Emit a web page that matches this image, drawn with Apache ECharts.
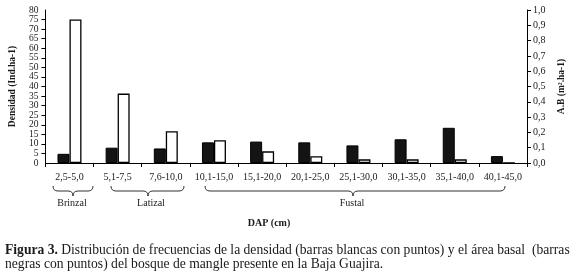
<!DOCTYPE html>
<html>
<head>
<meta charset="utf-8">
<script src="https://cdn.jsdelivr.net/npm/echarts@6/dist/echarts.min.js"></script>
<style>
html,body{margin:0;padding:0;background:#fff;}
#c{width:579px;height:275px;}
</style>
</head>
<body>
<div id="c"></div>
<script>
var categories = ['2,5-5,0','5,1-7,5','7,6-10,0','10,1-15,0','15,1-20,0','20,1-25,0','25,1-30,0','30,1-35,0','35,1-40,0','40,1-45,0'];
var areaBasal = [0.06, 0.10, 0.095, 0.135, 0.14, 0.135, 0.115, 0.155, 0.23, 0.045];
var densidad = [75, 36.3, 16.6, 11.9, 6.1, 3.5, 1.9, 1.9, 1.9, 0];
var leftTicks = {min: 0, max: 80, interval: 5};
var rightTicks = {min: 0, max: 1, interval: 0.1};

var serif = '"Liberation Serif", "DejaVu Serif", serif';
var txt = '#1a1a1a';

function brace(x1, x2, xm) {
  var y0 = 186, y1 = 191, y2 = 196, r = 5;
  var st = {fill: null, stroke: '#333', lineWidth: 1};
  return [
    {type: 'bezierCurve', shape: {x1: x1, y1: y0, cpx1: x1, cpy1: y1, x2: x1 + r, y2: y1}, style: st},
    {type: 'line', shape: {x1: x1 + r, y1: y1, x2: xm - r, y2: y1}, style: st},
    {type: 'bezierCurve', shape: {x1: xm - r, y1: y1, cpx1: xm, cpy1: y1, x2: xm, y2: y2}, style: st},
    {type: 'bezierCurve', shape: {x1: xm, y1: y2, cpx1: xm, cpy1: y1, x2: xm + r, y2: y1}, style: st},
    {type: 'line', shape: {x1: xm + r, y1: y1, x2: x2 - r, y2: y1}, style: st},
    {type: 'bezierCurve', shape: {x1: x2 - r, y1: y1, cpx1: x2, cpy1: y1, x2: x2, y2: y0}, style: st}
  ];
}

var graphics = [].concat(
  brace(53, 93, 73),
  brace(111, 184, 148),
  brace(205, 505, 353),
  [
    {type: 'text', x: 72, y: 203, style: {text: 'Brinzal', font: '10px ' + serif, fill: txt, textAlign: 'center', textVerticalAlign: 'middle'}},
    {type: 'text', x: 151, y: 203, style: {text: 'Latizal', font: '10px ' + serif, fill: txt, textAlign: 'center', textVerticalAlign: 'middle'}},
    {type: 'text', x: 352, y: 203, style: {text: 'Fustal', font: '10px ' + serif, fill: txt, textAlign: 'center', textVerticalAlign: 'middle'}},
    {type: 'text', x: 269, y: 223, style: {text: 'DAP (cm)', font: 'bold 10px ' + serif, fill: txt, textAlign: 'center', textVerticalAlign: 'middle'}},
    {type: 'text', x: 5, y: 250, style: {
      text: '{b|Figura 3.} Distribución de frecuencias de la densidad (barras blancas con puntos) y el área basal  (barras',
      font: '13.6px ' + serif, fill: txt, textVerticalAlign: 'middle',
      rich: {b: {fontWeight: 'bold', fontSize: 13.6, fontFamily: serif, fill: txt}}
    }},
    {type: 'text', x: 5, y: 264, style: {
      text: 'negras con puntos) del bosque de mangle presente en la Baja Guajira.',
      font: '13.6px ' + serif, fill: txt, textVerticalAlign: 'middle'
    }}
  ]
);

var leftLabel = {fontFamily: serif, fontSize: 9.5, color: txt, margin: 7, hideOverlap: false};

var chart = echarts.init(document.getElementById('c'), null, {renderer: 'canvas'});
chart.setOption({
  animation: false,
  backgroundColor: '#fff',
  textStyle: {fontFamily: serif, color: txt},
  grid: {left: 43, right: 52, top: 10, bottom: 112, containLabel: false},
  xAxis: {
    type: 'category',
    data: categories,
    boundaryGap: true,
    axisLine: {lineStyle: {color: '#000', width: 1}},
    axisTick: {show: true, length: 4, lineStyle: {color: '#000'}},
    axisLabel: {fontFamily: serif, fontSize: 10, color: txt, margin: 9, interval: 0}
  },
  yAxis: [{
    type: 'value',
    position: 'left',
    min: leftTicks.min, max: leftTicks.max, interval: leftTicks.interval,
    name: 'Densidad (Ind.ha-1)',
    nameLocation: 'middle', nameRotate: 90, nameGap: 23,
    nameTextStyle: {fontFamily: serif, fontSize: 9.5, fontWeight: 'bold', color: txt},
    axisLine: {show: true, lineStyle: {color: '#000'}},
    axisTick: {show: true, length: 4, lineStyle: {color: '#000'}},
    axisLabel: Object.assign({showMinLabel: false, showMaxLabel: false}, leftLabel),
    splitLine: {show: false}
  }, {
    type: 'value',
    position: 'right',
    min: rightTicks.min, max: rightTicks.max, interval: rightTicks.interval,
    name: 'A.B (m\u00b2.ha-1)',
    nameLocation: 'middle', nameRotate: 90, nameGap: 29,
    nameTextStyle: {fontFamily: serif, fontSize: 9.5, fontWeight: 'bold', color: txt},
    axisLine: {show: true, lineStyle: {color: '#000'}},
    axisTick: {show: true, length: 4, lineStyle: {color: '#000'}},
    axisLabel: {fontFamily: serif, fontSize: 10, color: txt, margin: 6,
      showMinLabel: true, showMaxLabel: true, hideOverlap: false,
      formatter: function (v) { return v.toFixed(1).replace('.', ','); }},
    splitLine: {show: false}
  }, {
    type: 'value',
    position: 'left',
    offset: 0,
    min: leftTicks.min, max: leftTicks.max, interval: leftTicks.max,
    axisLine: {show: false},
    axisTick: {show: false},
    axisLabel: Object.assign({showMinLabel: true, showMaxLabel: true}, leftLabel),
    splitLine: {show: false}
  }],
  series: [{
    type: 'bar',
    name: 'Área basal',
    yAxisIndex: 1,
    data: areaBasal,
    barWidth: 12,
    barGap: '0%',
    itemStyle: {color: '#141414', borderColor: '#000', borderWidth: 1}
  }, {
    type: 'bar',
    name: 'Densidad',
    yAxisIndex: 0,
    data: densidad,
    barWidth: 12,
    itemStyle: {color: '#fff', borderColor: '#000', borderWidth: 1.3}
  }],
  graphic: graphics
});
</script>
</body>
</html>
